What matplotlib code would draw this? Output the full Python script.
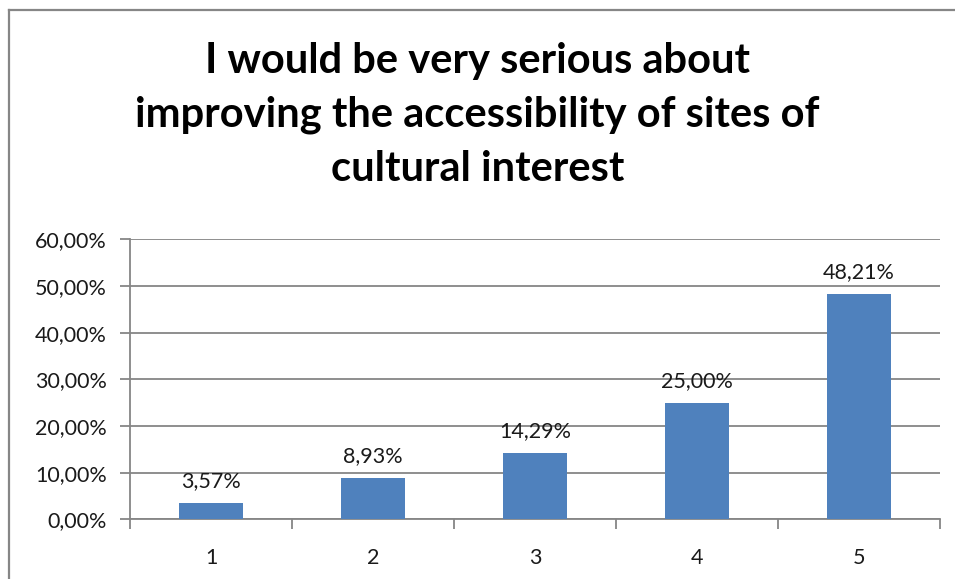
import matplotlib.pyplot as plt
from matplotlib.lines import Line2D
from matplotlib.ticker import FuncFormatter, FixedLocator

# survey answers on a 1-5 scale, share of respondents (%)
categories = ['1', '2', '3', '4', '5']
shares = [3.57, 8.93, 14.29, 25.00, 48.21]
y_ticks = [0, 10, 20, 30, 40, 50, 60]

title = ('I would be very serious about\n'
         'improving the accessibility of sites of\n'
         'cultural interest')

BAR_COLOR = '#4F81BD'
GRID_COLOR = '#868686'
FONT = 'Lato'


def pct(v, _=None):
    return f'{v:.2f}%'.replace('.', ',')


fig = plt.figure(figsize=(9.55, 5.79), dpi=100)
W, H = 955, 579

# chart frame (only left and top edges fall inside the image)
fig.add_artist(Line2D([8.5 / W, 8.5 / W], [0, 1 - 9.5 / H], color=GRID_COLOR,
                      lw=1.6, transform=fig.transFigure))
fig.add_artist(Line2D([8.5 / W, 1], [1 - 9.5 / H, 1 - 9.5 / H], color=GRID_COLOR,
                      lw=1.6, transform=fig.transFigure))

ax = fig.add_axes([130 / W, 59.7 / H, 810 / W, 280 / H])

x = list(range(len(categories)))
ax.bar(x, shares, width=0.4, color=BAR_COLOR, zorder=3)

for xi, v in zip(x, shares):
    ax.annotate(pct(v), (xi, v), xytext=(0, 8.5), textcoords='offset points',
                ha='center', va='bottom', fontsize=15.5, family=FONT,
                color='#1a1a1a', zorder=4)

ax.set_xlim(-0.5, len(categories) - 0.5)
ax.set_ylim(0, 60)
ax.set_yticks(y_ticks)
ax.yaxis.set_major_formatter(FuncFormatter(pct))
ax.grid(axis='y', color=GRID_COLOR, lw=1.3, zorder=0)

ax.set_xticks(x)
ax.set_xticklabels(categories)
ax.xaxis.set_minor_locator(FixedLocator([i - 0.5 for i in range(len(categories) + 1)]))
ax.tick_params(axis='x', which='major', length=0, pad=21)
ax.tick_params(axis='x', which='minor', length=7, width=1.3, color=GRID_COLOR)
ax.tick_params(axis='y', length=7, width=1.3, color=GRID_COLOR, pad=9.5)
for lab in ax.get_xticklabels() + ax.get_yticklabels():
    lab.set_fontsize(15.5)
    lab.set_family(FONT)
    lab.set_color('#1a1a1a')

for side in ('top', 'right'):
    ax.spines[side].set_visible(False)
for side in ('left', 'bottom'):
    ax.spines[side].set_color(GRID_COLOR)
    ax.spines[side].set_linewidth(1.3)

fig.text(0.5, 1 - 115 / H, title, ha='center', va='center', fontsize=30,
         fontweight='bold', family=FONT, linespacing=1.5)

fig.savefig('out.png', dpi=100, facecolor='white')
